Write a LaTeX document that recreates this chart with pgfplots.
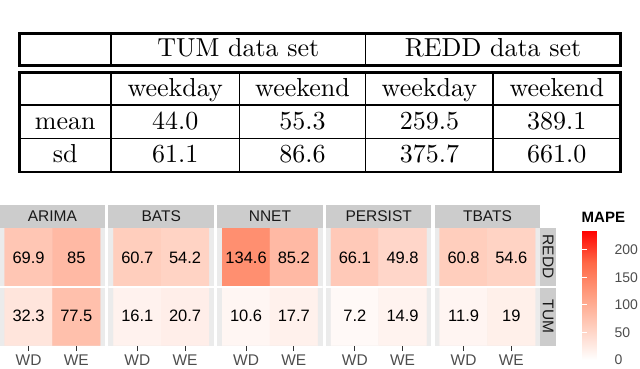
\documentclass[border=0pt]{standalone}
\usepackage{pgfplots}
\usepackage{pgfplotstable}
\pgfplotsset{compat=1.18}
\usepackage{fontspec}
\newfontfamily\arial{Liberation Sans}
\newfontfamily\tabfont{lmroman10-regular.otf}

\definecolor{stripgrey}{RGB}{204,204,204}
\definecolor{panelbg}{RGB}{235,235,235}
\definecolor{tickgrey}{RGB}{51,51,51}
\definecolor{labgrey}{RGB}{77,77,77}

% MAPE per method: x=1 WD, x=2 WE; y=1 TUM, y=2 REDD
\pgfplotstableread{
x y v
1 1 32.3
2 1 77.5
1 2 69.9
2 2 85
}\arima
\pgfplotstableread{
x y v
1 1 16.1
2 1 20.7
1 2 60.7
2 2 54.2
}\bats
\pgfplotstableread{
x y v
1 1 10.6
2 1 17.7
1 2 134.6
2 2 85.2
}\nnet
\pgfplotstableread{
x y v
1 1 7.2
2 1 14.9
1 2 66.1
2 2 49.8
}\persist
\pgfplotstableread{
x y v
1 1 11.9
2 1 19
1 2 60.8
2 2 54.6
}\tbats

\pgfplotsset{
  colormap={mape}{rgb255=(255,255,255) rgb255=(255,207,191) rgb255=(255,158,129) rgb255=(255,104,70) rgb255=(255,0,0)},
  panel/.style={
    scale only axis, width=105.5pt, height=117.5pt,
    anchor=north west,
    xmin=0.395, xmax=2.605, ymin=0.5, ymax=2.5,
    axis line style={draw=none},
    axis background/.style={fill=panelbg},
    xtick={1,2}, xticklabels={WD,WE}, ytick=\empty,
    xtick pos=left, tick align=outside, major tick length=5.5pt,
    every tick/.style={tickgrey, line width=0.8pt},
    xticklabel style={font=\arial\fontsize{15.5}{17}\selectfont, text=labgrey},
    colormap name=mape,
    point meta min=0, point meta max=236,
  },
}

\newcommand\panel[3]{%
  \begin{axis}[panel, at={(#1pt,-228pt)}, #3]
    \addplot[matrix plot*, mesh/cols=2, point meta=explicit] table[meta=v] {#2};
    \addplot[draw=none, mark=none, nodes near coords, point meta=explicit symbolic,
      every node near coord/.append style={anchor=center, text=black,
        font=\arial\fontsize{16.5}{19}\selectfont}] table[meta=v] {#2};
    \fill[white] (axis cs:0,1.4787) rectangle (axis cs:3,1.5213);
  \end{axis}}

\begin{document}
\begin{tikzpicture}
  % table of consumption statistics
  \begin{scope}[line cap=rect]
    \draw[line width=2.2pt] (19.5pt,-33.5pt) rectangle (620.5pt,-65.5pt);
    \draw[line width=1.2pt] (111pt,-33.5pt) -- (111pt,-65.5pt);
    \draw[line width=1.2pt] (365.7pt,-33.5pt) -- (365.7pt,-65.5pt);
    \draw[line width=2.2pt] (19.5pt,-72.5pt) rectangle (620.5pt,-171.7pt);
    \draw[line width=1.2pt] (19.5pt,-105pt) -- (620.5pt,-105pt);
    \draw[line width=1.2pt] (19.5pt,-138.3pt) -- (620.5pt,-138.3pt);
    \foreach \cx in {111,239.3,365.7,493}
      \draw[line width=1.2pt] (\cx pt,-72.5pt) -- (\cx pt,-171.7pt);
  \end{scope}
  \begin{scope}[every node/.style={anchor=base, inner sep=0pt,
      font=\tabfont\fontsize{26}{30}\selectfont}]
    \node at (238.3pt,-56.5pt) {TUM data set};
    \node at (493pt,-56.5pt) {REDD data set};
    \node at (175.2pt,-96pt) {weekday};
    \node at (302.5pt,-96pt) {weekend};
    \node at (429.4pt,-96pt) {weekday};
    \node at (556.8pt,-96pt) {weekend};
    \node at (65.2pt,-129.3pt) {mean};
    \node at (175.2pt,-129.3pt) {44.0};
    \node at (302.5pt,-129.3pt) {55.3};
    \node at (429.4pt,-129.3pt) {259.5};
    \node at (556.8pt,-129.3pt) {389.1};
    \node at (65.2pt,-162.7pt) {sd};
    \node at (175.2pt,-162.7pt) {61.1};
    \node at (302.5pt,-162.7pt) {86.6};
    \node at (429.4pt,-162.7pt) {375.7};
    \node at (556.8pt,-162.7pt) {661.0};
  \end{scope}

  % heatmap panels
  \panel{-0.3}{\arima}{}
  \panel{108.45}{\bats}{}
  \panel{217.2}{\nnet}{}
  \panel{325.95}{\persist}{}
  \panel{434.7}{\tbats}{
    colorbar,
    colorbar style={
      at={(parent axis.north east)}, anchor=north west,
      xshift=33.3pt, yshift=-2pt,
      scale only axis, width=26.5pt, height=130pt,
      axis background/.style={fill=none},
      axis line style={draw=none},
      ytick={0,50,100,150,200},
      ytick pos=both, yticklabel pos=right,
      tick align=inside, major tick length=5pt,
      every tick/.style={white, line width=0.9pt},
      yticklabel style={font=\arial\fontsize{14}{16}\selectfont, text=labgrey, xshift=2.5pt},
      /pgf/number format/assume math mode=true,
    }}

  % facet strips
  \foreach \sx/\sn in {-0.3/ARIMA, 108.45/BATS, 217.2/NNET, 325.95/PERSIST, 434.7/TBATS} {
    \fill[stripgrey] (\sx pt,-205pt) rectangle ++(105.5pt,-23pt);
    \node[font=\arial\fontsize{15.5}{18}\selectfont, text=black!90] at ({\sx pt+52.75pt},-216.5pt) {\sn};
  }
  \fill[stripgrey] (540.2pt,-228pt) rectangle (556pt,-285.5pt);
  \fill[stripgrey] (540.2pt,-288pt) rectangle (556pt,-345.5pt);
  \node[rotate=-90, font=\arial\fontsize{15.5}{18}\selectfont, text=black!90] at (548.1pt,-256.75pt) {REDD};
  \node[rotate=-90, font=\arial\fontsize{15.5}{18}\selectfont, text=black!90] at (548.1pt,-316.75pt) {TUM};

  \node[anchor=west, inner sep=0pt, font=\arial\bfseries\fontsize{15}{18}\selectfont] at (581.5pt,-217pt) {MAPE};

  \pgfresetboundingbox
  \useasboundingbox (0pt,0pt) rectangle (640pt,-368pt);
\end{tikzpicture}
\end{document}
